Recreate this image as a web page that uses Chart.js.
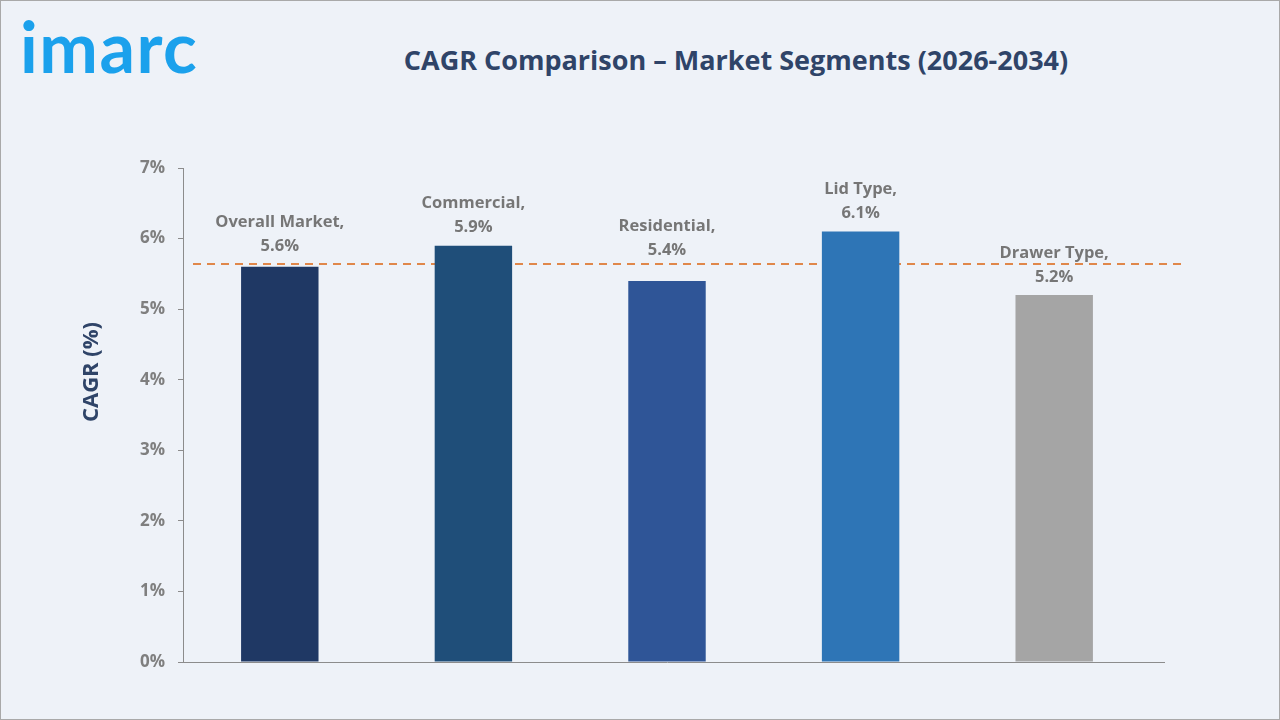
<!DOCTYPE html>
<html>
<head>
<meta charset="utf-8">
<script src="https://cdn.jsdelivr.net/npm/chart.js@4/dist/chart.umd.min.js"></script>
<style>
  html, body { margin: 0; padding: 0; }
  body { width: 1280px; height: 720px; background: #eef2f8; position: relative; overflow: hidden; font-family: "Open Sans", sans-serif; }
  .frame { position: absolute; left: 0; top: 0; width: 1278px; height: 718px; border: 1px solid #a9a9a9; pointer-events: none; }
  .logo { position: absolute; left: 20px; top: 4px; font-family: Lato, sans-serif; font-weight: 700; font-size: 70px; color: #1ba1ec; letter-spacing: 1.5px; }
  .title { position: absolute; left: 336px; width: 800px; top: 41px; text-align: center; font-weight: 700; font-size: 27px; color: #2f4468; }
  .ytitle { position: absolute; left: 89px; top: 372px; transform: translate(-50%, -50%) rotate(-90deg); white-space: nowrap; font-weight: 700; font-size: 22px; color: #2f4468; }
  .wrap { position: absolute; left: 0; top: 0; width: 1280px; height: 720px; }
</style>
</head>
<body>
<div class="logo">imarc</div>
<div class="title">CAGR Comparison – Market Segments (2026-2034)</div>
<div class="wrap"><canvas id="cagrChart"></canvas></div>
<div class="ytitle">CAGR (%)</div>
<div class="frame"></div>
<script>
// données du graphique
const categories = ["Overall Market", "Commercial", "Residential", "Lid Type", "Drawer Type"];
const cagrValues = [5.6, 5.9, 5.4, 6.1, 5.2];
const barColors = ["#1f3864", "#1f4e79", "#2f5597", "#2e75b6", "#a5a5a5"];
const yTicks = [0, 1, 2, 3, 4, 5, 6, 7];

// petit décalage vertical des étiquettes (évite la ligne pointillée)
const labelLift = [3, 0, 13, 0, 0];

// moyenne des segments -> ligne pointillée
const avgValue = cagrValues.reduce((a, b) => a + b, 0) / cagrValues.length;

const avgLinePlugin = {
  id: "avgLine",
  beforeDatasetsDraw(chart) {
    const { ctx, chartArea, scales } = chart;
    const y = scales.y.getPixelForValue(avgValue);
    ctx.save();
    ctx.strokeStyle = "#e0874a";
    ctx.lineWidth = 2;
    ctx.setLineDash([8, 6]);
    ctx.beginPath();
    ctx.moveTo(chartArea.left + 10, y);
    ctx.lineTo(chartArea.right + 31, y);
    ctx.stroke();
    ctx.restore();
  },
  afterDraw(chart) {
    // prolonge l'axe x un peu à droite
    const { ctx, chartArea } = chart;
    ctx.save();
    ctx.strokeStyle = "#8c8c8c";
    ctx.lineWidth = 1;
    ctx.beginPath();
    ctx.moveTo(chartArea.right, chartArea.bottom + 0.5);
    ctx.lineTo(chartArea.right + 14, chartArea.bottom + 0.5);
    ctx.stroke();
    ctx.restore();
  }
};

const barLabelPlugin = {
  id: "barLabels",
  afterDatasetsDraw(chart) {
    const { ctx } = chart;
    const meta = chart.getDatasetMeta(0);
    ctx.save();
    ctx.fillStyle = "#767676";
    ctx.font = "700 16.5px 'Open Sans', sans-serif";
    ctx.textAlign = "center";
    ctx.textBaseline = "middle";
    meta.data.forEach((bar, i) => {
      const lift = labelLift[i] || 0;
      ctx.fillText(categories[i] + ",", bar.x, bar.y - 42 - lift);
      ctx.fillText(cagrValues[i].toFixed(1) + "%", bar.x, bar.y - 18 - lift);
    });
    ctx.restore();
  }
};

const ctx = document.getElementById("cagrChart").getContext("2d");
new Chart(ctx, {
  type: "bar",
  data: {
    labels: categories,
    datasets: [{
      data: cagrValues,
      backgroundColor: barColors,
      barPercentage: 0.4,
      categoryPercentage: 1.0
    }]
  },
  options: {
    responsive: true,
    maintainAspectRatio: false,
    animation: false,
    layout: {
      padding: { left: 0, right: 129, top: 168, bottom: 58 }
    },
    plugins: {
      legend: { display: false },
      tooltip: { enabled: false }
    },
    scales: {
      x: {
        ticks: { display: false },
        grid: { display: false },
        border: { display: true, color: "#8c8c8c", width: 1 },
        afterFit: (scale) => { scale.height = 0; }
      },
      y: {
        min: 0,
        max: 7,
        afterBuildTicks: (scale) => { scale.ticks = yTicks.map(v => ({ value: v })); },
        ticks: {
          padding: 13,
          color: "#7f7f7f",
          font: { family: "'Open Sans', sans-serif", size: 17, weight: "bold" },
          callback: (v) => v + "%"
        },
        grid: { drawOnChartArea: false, drawTicks: true, tickLength: 5, color: "#8c8c8c" },
        border: { display: true, color: "#8c8c8c", width: 1 },
        afterFit: (scale) => { scale.width = 183; }
      }
    }
  },
  plugins: [avgLinePlugin, barLabelPlugin]
});
</script>
</body>
</html>
